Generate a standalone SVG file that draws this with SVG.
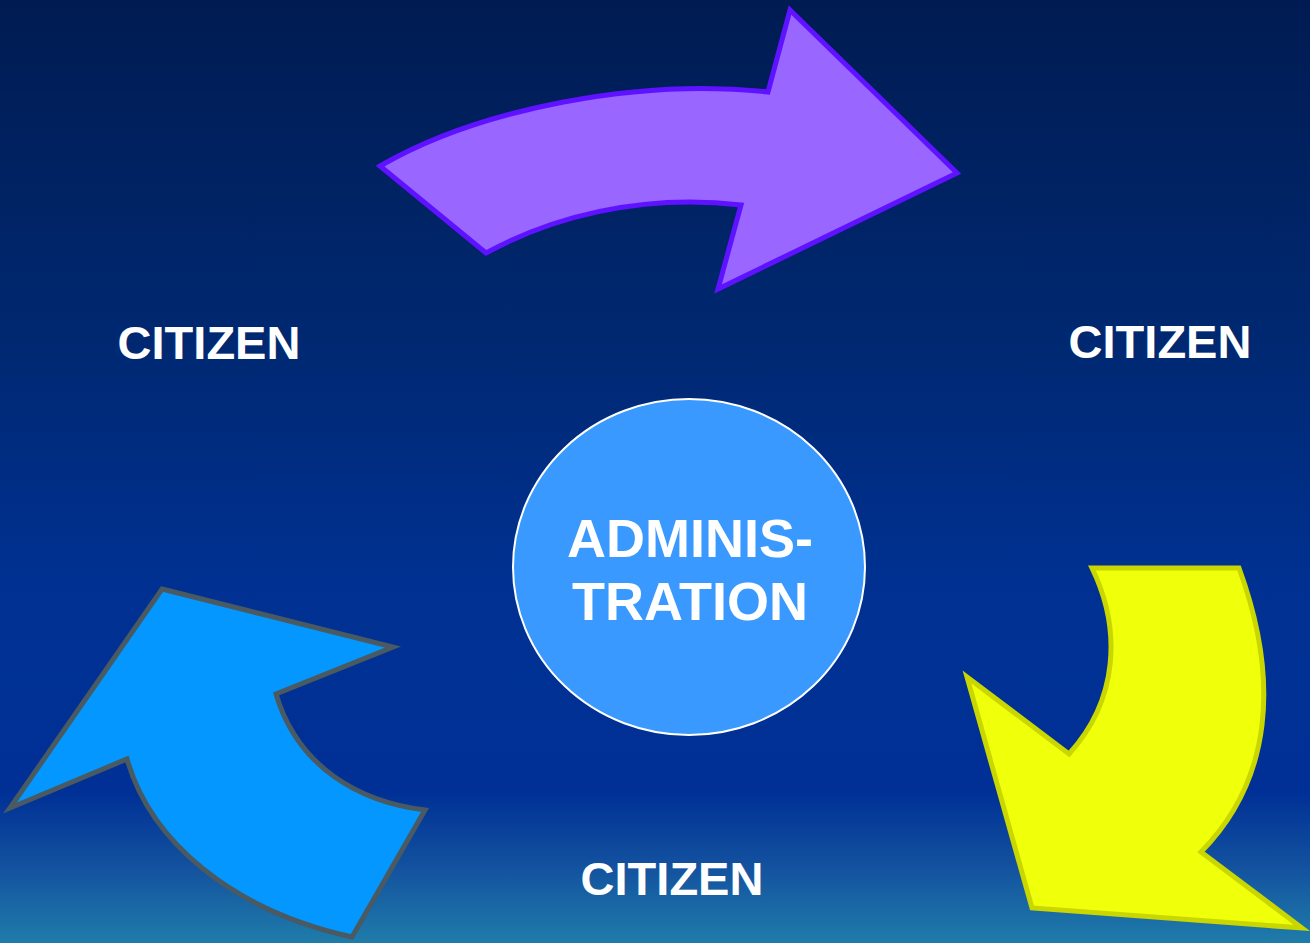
<svg xmlns="http://www.w3.org/2000/svg" width="1310" height="943" viewBox="0 0 1310 943">
<defs>
<linearGradient id="bg" x1="0" y1="0" x2="0" y2="1">
<stop offset="0" stop-color="#001b52"/>
<stop offset="0.35" stop-color="#002870"/>
<stop offset="0.62" stop-color="#003192"/>
<stop offset="0.84" stop-color="#003096"/>
<stop offset="0.92" stop-color="#13529f"/>
<stop offset="1" stop-color="#1f7caa"/>
</linearGradient>
<style>
.lbl{font-family:"Liberation Sans",Arial,sans-serif;font-weight:bold;fill:#ffffff;text-anchor:middle}
</style>
</defs>
<rect width="1310" height="943" fill="url(#bg)"/>
<g id="arrow-top">
<path d="M380,166 C480,108 640,78 768,92 L790,10 L957,173 L718,289 L741,205 C640,193 550,218 486,253 Z" fill="#9966ff" stroke="#5f12ff" stroke-width="5" stroke-linejoin="miter"/>
</g>
<g id="arrow-left">
<path d="M162,589 L393,647 L276,694 C298,768 360,802 425,810 L352,937 C230,910 150,840 127,759 L10,808 Z" fill="#0397ff" stroke="#4a5a62" stroke-width="5"/>
</g>
<g id="arrow-right">
<path d="M1092,568 L1239,568 C1280,680 1272,780 1201,852 L1302,928 L1032,908 L967,677 L1069,754 C1118,700 1122,630 1092,568 Z" fill="#f0ff0a" stroke="#c9d600" stroke-width="5"/>
</g>
<g id="admin">
<ellipse cx="689" cy="567" rx="176" ry="168" fill="#3a99ff" stroke="#ffffff" stroke-width="2"/>
<text class="lbl" x="690" y="557" font-size="54">ADMINIS-</text>
<text class="lbl" x="690" y="620" font-size="54">TRATION</text>
</g>
<g id="citizen-left"><text class="lbl" x="209" y="359" font-size="47">CITIZEN</text></g>
<g id="citizen-right"><text class="lbl" x="1160" y="358" font-size="47">CITIZEN</text></g>
<g id="citizen-bottom"><text class="lbl" x="672" y="895" font-size="47">CITIZEN</text></g>
</svg>
